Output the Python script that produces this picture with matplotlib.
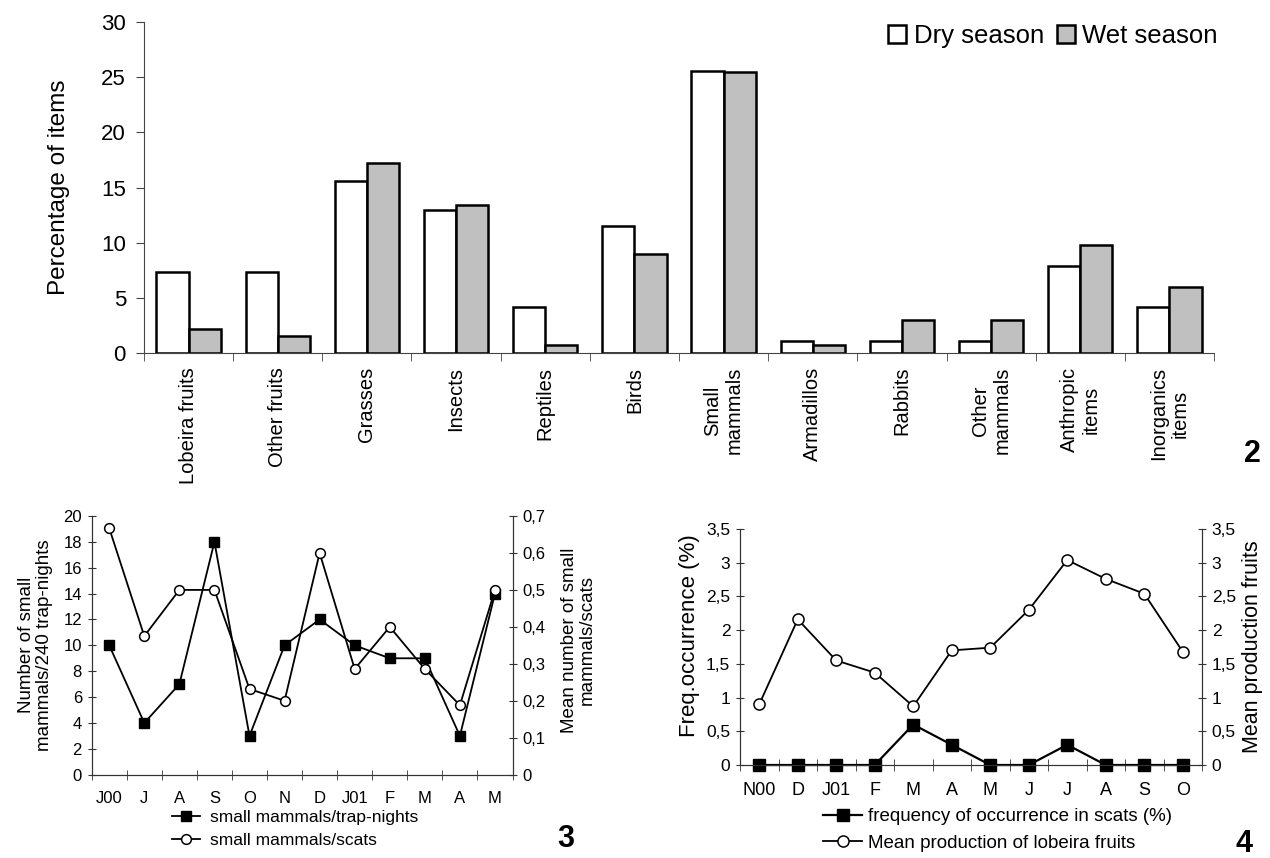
import matplotlib.pyplot as plt
from matplotlib.ticker import FuncFormatter
import numpy as np

plt.rcParams['font.family'] = ['Liberation Sans', 'DejaVu Sans']

# --- data: diet by season (fig. 2)
items = ["Lobeira fruits", "Other fruits", "Grasses", "Insects", "Reptiles", "Birds",
         "Small\nmammals", "Armadillos", "Rabbits", "Other\nmammals",
         "Anthropic\nitems", "Inorganics\nitems"]
dry = [7.3, 7.3, 15.6, 13.0, 4.2, 11.5, 25.6, 1.05, 1.05, 1.05, 7.85, 4.2]
wet = [2.2, 1.5, 17.2, 13.4, 0.75, 9.0, 25.5, 0.75, 3.0, 3.0, 9.75, 5.95]

# --- data: small mammals (fig. 3)
months3 = ["J00", "J", "A", "S", "O", "N", "D", "J01", "F", "M", "A", "M"]
trap = [10, 4, 7, 18, 3, 10, 12, 10, 9, 9, 3, 14]
scats = [0.667, 0.375, 0.5, 0.5, 0.232, 0.2, 0.6, 0.286, 0.4, 0.286, 0.188, 0.5]

# --- data: lobeira fruits (fig. 4)
months4 = ["N00", "D", "J01", "F", "M", "A", "M", "J", "J", "A", "S", "O"]
freq = [0, 0, 0, 0, 0.6, 0.3, 0, 0, 0.3, 0, 0, 0]
prod = [0.9, 2.16, 1.55, 1.37, 0.87, 1.7, 1.74, 2.3, 3.04, 2.76, 2.54, 1.68]

comma = FuncFormatter(lambda v, p: f"{v:g}".replace(".", ","))
W, H = 1270, 858

fig = plt.figure(figsize=(12.7, 8.58), dpi=100)

# ---------------- figure 2
ax = fig.add_axes([144 / W, 1 - 353 / H, 1070 / W, 331 / H])
x = np.arange(len(items))
w = 0.36
ax.bar(x - w / 2, dry, w, color='white', edgecolor='black', linewidth=1.8, label='Dry season')
ax.bar(x + w / 2, wet, w, color='#c0c0c0', edgecolor='black', linewidth=1.8, label='Wet season')
ax.set_xlim(-0.5, len(items) - 0.5)
ax.set_ylim(0, 30)
ax.set_yticks(range(0, 31, 5))
ax.set_xticks(x)
ax.set_xticklabels(items, rotation=90, fontsize=14.5, va='top', ha='center')
ax.set_xticks(np.arange(-0.5, len(items)), minor=True)
ax.tick_params(axis='x', which='major', length=0, pad=10)
ax.tick_params(axis='x', which='minor', length=6, direction='out', color='#444')
ax.tick_params(axis='y', length=6, direction='out', color='#444', labelsize=16, pad=7)
for s in ['top', 'right']:
    ax.spines[s].set_visible(False)
for s in ['left', 'bottom']:
    ax.spines[s].set_color('#444')
ax.set_ylabel("Percentage of items", fontsize=17.5)
ax.yaxis.set_label_coords(-0.069, 0.5)
ax.legend(loc='center right', bbox_to_anchor=(1218 / W, 1 - 36 / H), bbox_transform=fig.transFigure,
          ncol=2, frameon=False, fontsize=18.5, handlelength=0.7, handleheight=0.7,
          handletextpad=0.3, columnspacing=0.5, borderpad=0, borderaxespad=0)
fig.text(1252 / W, 1 - 454 / H, "2", fontsize=22, fontweight='bold', ha='center', va='center')

# ---------------- figure 3
ax3 = fig.add_axes([91.7 / W, 1 - 774.7 / H, 420.8 / W, 258.7 / H])
ax3b = ax3.twinx()
n = len(months3)
l1, = ax3.plot(range(n), trap, color='black', lw=1.3, marker='s', ms=7.5, mfc='black', mec='black',
               label='small mammals/trap-nights', clip_on=False, zorder=3)
l2, = ax3b.plot(range(n), scats, color='black', lw=1.3, marker='o', ms=7, mfc='white', mec='black',
                mew=1.1, label='small mammals/scats', clip_on=False, zorder=3)
ax3.set_xlim(-0.5, n - 0.5)
ax3.set_ylim(0, 20)
ax3b.set_ylim(0, 0.7)
ax3.set_yticks(range(0, 21, 2))
ax3b.set_yticks(np.arange(0, 0.71, 0.1))
ax3b.yaxis.set_major_formatter(comma)
ax3.set_xticks(range(n))
ax3.set_xticklabels(months3, fontsize=12)
ax3.set_xticks(np.arange(-0.5, n), minor=True)
ax3.tick_params(axis='x', which='major', length=0, pad=12)
ax3.tick_params(axis='x', which='minor', length=7, direction='inout', color='#333')
ax3.tick_params(axis='y', length=6, direction='inout', color='#333', labelsize=12, pad=4)
ax3b.tick_params(axis='y', length=6, direction='inout', color='#333', labelsize=12, pad=4)
for a in (ax3, ax3b):
    a.spines['top'].set_visible(False)
    for s in ['left', 'right', 'bottom']:
        a.spines[s].set_color('#333')
ax3.set_ylabel("Number of small\nmammals/240 trap-nights", fontsize=13.5, linespacing=1.05)
ax3.yaxis.set_label_coords(-0.092, 0.5)
ax3b.set_ylabel("Mean number of small\nmammals/scats", fontsize=13.5, linespacing=1.05)
ax3b.yaxis.set_label_coords(1.115, 0.52)
fig.legend([l1, l2], [l1.get_label(), l2.get_label()], loc='upper left',
           bbox_to_anchor=(172 / W, 1 - 810 / H), frameon=False, fontsize=12.5,
           handlelength=1.6, handletextpad=0.6, labelspacing=0.45, borderpad=0, borderaxespad=0)
fig.text(566 / W, 1 - 839 / H, "3", fontsize=22, fontweight='bold', ha='center', va='center')

# ---------------- figure 4
ax4 = fig.add_axes([740 / W, 1 - 765 / H, 462 / W, 236 / H])
ax4b = ax4.twinx()
n = len(months4)
l3, = ax4.plot(range(n), freq, color='black', lw=1.6, marker='s', ms=8.5, mfc='black', mec='black',
               label='frequency of occurrence in scats (%)', clip_on=False, zorder=4)
l4, = ax4b.plot(range(n), prod, color='black', lw=1.3, marker='o', ms=8, mfc='white', mec='black',
                mew=1.1, label='Mean production of lobeira fruits', clip_on=False, zorder=3)
ax4.set_xlim(-0.5, n - 0.5)
ax4.set_ylim(0, 3.5)
ax4b.set_ylim(0, 3.5)
for a in (ax4, ax4b):
    a.set_yticks(np.arange(0, 3.51, 0.5))
    a.yaxis.set_major_formatter(comma)
    a.tick_params(axis='y', length=6, direction='inout', color='#333', labelsize=12.5, pad=4)
    a.spines['top'].set_visible(False)
    for s in ['left', 'right', 'bottom']:
        a.spines[s].set_color('#333')
ax4.set_xticks(range(n))
ax4.set_xticklabels(months4, fontsize=13)
ax4.set_xticks(np.arange(-0.5, n), minor=True)
ax4.tick_params(axis='x', which='major', length=0, pad=12)
ax4.tick_params(axis='x', which='minor', length=8, direction='inout', color='#333')
ax4.set_ylabel("Freq.occurrence (%)", fontsize=16)
ax4.yaxis.set_label_coords(-0.087, 0.55)
ax4b.set_ylabel("Mean production fruits", fontsize=15.5)
ax4b.yaxis.set_label_coords(1.087, 0.5)
fig.legend([l3, l4], [l3.get_label(), l4.get_label()], loc='upper left',
           bbox_to_anchor=(823 / W, 1 - 808 / H), frameon=False, fontsize=13.5,
           handlelength=2.1, handletextpad=0.3, labelspacing=0.5, borderpad=0, borderaxespad=0)
fig.text(1244 / W, 1 - 844 / H, "4", fontsize=22, fontweight='bold', ha='center', va='center')

fig.savefig("out.png", dpi=100)
